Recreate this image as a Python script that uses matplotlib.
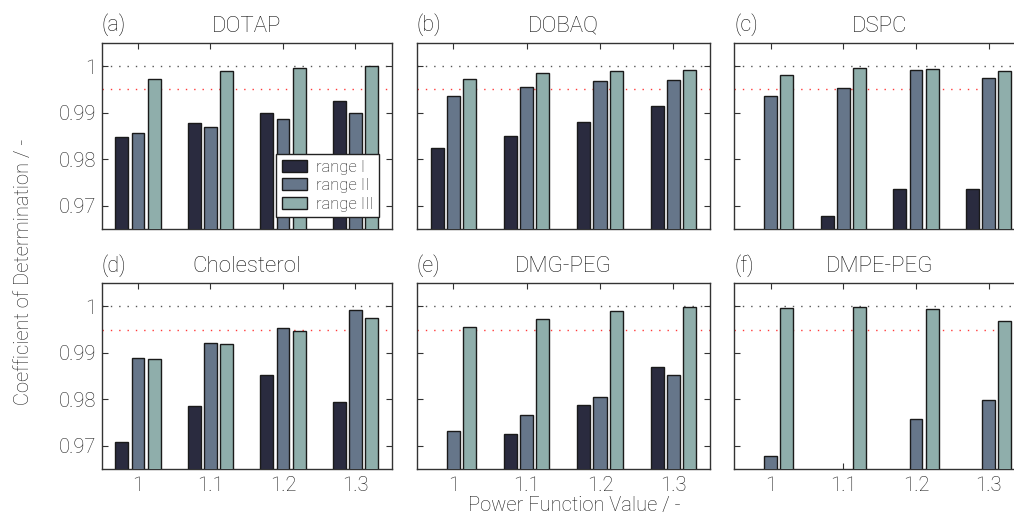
import numpy as np
import matplotlib
matplotlib.use("Agg")
import matplotlib.pyplot as plt

# Data: coefficient of determination per lipid, power function value and fit range
power_values = ["1", "1.1", "1.2", "1.3"]
series_names = ["range I", "range II", "range III"]
panel_tags = ["(a)", "(b)", "(c)", "(d)", "(e)", "(f)"]
lipids = ["DOTAP", "DOBAQ", "DSPC", "Cholesterol", "DMG-PEG", "DMPE-PEG"]

dotap_r1 = [0.9847, 0.9877, 0.9900, 0.9924]
dotap_r2 = [0.9857, 0.9870, 0.9886, 0.9900]
dotap_r3 = [0.9972, 0.9989, 0.9996, 0.9999]

dobaq_r1 = [0.9825, 0.9849, 0.9880, 0.9915]
dobaq_r2 = [0.9936, 0.9954, 0.9968, 0.9970]
dobaq_r3 = [0.9972, 0.9984, 0.9989, 0.9991]

dspc_r1 = [np.nan, 0.9679, 0.9736, 0.9736]
dspc_r2 = [0.9936, 0.9952, 0.9991, 0.9974]
dspc_r3 = [0.9981, 0.9995, 0.9994, 0.9989]

chol_r1 = [0.9708, 0.9786, 0.9853, 0.9794]
chol_r2 = [0.9888, 0.9922, 0.9954, 0.9993]
chol_r3 = [0.9886, 0.9920, 0.9948, 0.9976]

dmg_r1 = [np.nan, 0.9725, 0.9788, 0.9869]
dmg_r2 = [0.9731, 0.9765, 0.9805, 0.9852]
dmg_r3 = [0.9955, 0.9973, 0.9991, 0.9999]

dmpe_r1 = [np.nan, np.nan, np.nan, np.nan]
dmpe_r2 = [0.9678, np.nan, 0.9758, 0.9798]
dmpe_r3 = [0.9996, 0.9998, 0.9994, 0.9969]

panel_data = [
    (dotap_r1, dotap_r2, dotap_r3),
    (dobaq_r1, dobaq_r2, dobaq_r3),
    (dspc_r1, dspc_r2, dspc_r3),
    (chol_r1, chol_r2, chol_r3),
    (dmg_r1, dmg_r2, dmg_r3),
    (dmpe_r1, dmpe_r2, dmpe_r3),
]

y_ticks = [0.97, 0.98, 0.99, 1.0]
y_tick_labels = ["0.97", "0.98", "0.99", "1"]
ref_perfect = 1.0
ref_threshold = 0.995

# Styling
bar_colors = ["#2a2b3f", "#66768a", "#8faeab"]
text_color = "#1e1e1e"

plt.rcParams["font.family"] = ["Roboto", "DejaVu Sans"]
FW = "light"
plt.rcParams["font.weight"] = FW
plt.rcParams["axes.titleweight"] = FW
plt.rcParams["text.color"] = text_color
plt.rcParams["axes.labelcolor"] = text_color
plt.rcParams["xtick.color"] = "#333333"
plt.rcParams["ytick.color"] = "#333333"
plt.rcParams["xtick.labelcolor"] = text_color
plt.rcParams["ytick.labelcolor"] = text_color

W, H = 1014, 520
fig = plt.figure(figsize=(W / 100, H / 100), dpi=100)

# axes boxes in pixels: left, top, right, bottom
boxes = [
    (101.7, 42.7, 391.7, 229.3),
    (416.7, 42.7, 710.0, 229.3),
    (734.3, 42.7, 1025.0, 229.3),
    (101.7, 283.3, 391.7, 468.7),
    (416.7, 283.3, 710.0, 468.7),
    (734.3, 283.3, 1025.0, 468.7),
]

x = np.arange(1, len(power_values) + 1)
group_width = 2.0 / 3.0
step = group_width / 3
bar_w = step * 0.8

for i, ((l, t, r, b), data) in enumerate(zip(boxes, panel_data)):
    ax = fig.add_axes([l / W, 1 - b / H, (r - l) / W, (b - t) / H])
    handles = []
    for k, vals in enumerate(data):
        offs = (k - 1) * step
        hb = ax.bar(x + offs, vals, width=bar_w, color=bar_colors[k],
                    edgecolor="#1a1a1a", linewidth=1.0, label=series_names[k],
                    zorder=3)
        handles.append(hb)
    ax.axhline(ref_perfect, color="#555555", linestyle=(0, (1, 5)),
               linewidth=1.0, zorder=1)
    ax.axhline(ref_threshold, color="#ff3a3a", linestyle=(0, (1, 5)),
               linewidth=1.0, zorder=1)
    ax.set_xlim(0.5, 4.5)
    ax.set_ylim(0.965, 1.005)
    ax.set_xticks(x)
    ax.set_yticks(y_ticks)
    ax.tick_params(direction="in", top=True, right=True, length=4,
                   width=0.8, labelsize=14.5)
    ax.tick_params(axis="y", pad=4)
    ax.tick_params(axis="x", pad=5)
    if i >= 3:
        ax.set_xticklabels(power_values)
    else:
        ax.set_xticklabels([])
    if i % 3 == 0:
        ax.set_yticklabels(y_tick_labels)
    else:
        ax.set_yticklabels([])
    for sp in ax.spines.values():
        sp.set_color("#333333")
        sp.set_linewidth(1.0)
    ax.set_title(lipids[i], fontsize=16, pad=8, color="#141414")
    ax.text(0.0, 1.035, panel_tags[i], transform=ax.transAxes, fontsize=15.5,
            ha="left", va="bottom", color="#141414")
    if i == 0:
        leg = ax.legend(handles=handles, labels=series_names,
                        loc="lower right", bbox_to_anchor=(0.957, 0.064),
                        borderaxespad=0, fontsize=12, fancybox=False,
                        framealpha=1, edgecolor="#222222",
                        handlelength=1.5, handleheight=0.75,
                        handletextpad=0.5, labelspacing=0.2,
                        borderpad=0.35)
        leg.get_frame().set_linewidth(1.0)
        leg.set_zorder(10)

fig.text(24 / W, 1 - 272 / H, "Coefficient of Determination / -",
         rotation=90, ha="center", va="center", fontsize=14.5)
fig.text(574 / W, 1 - 505 / H, "Power Function Value / -",
         ha="center", va="center", fontsize=14.5)

fig.savefig("out.png", dpi=100)
